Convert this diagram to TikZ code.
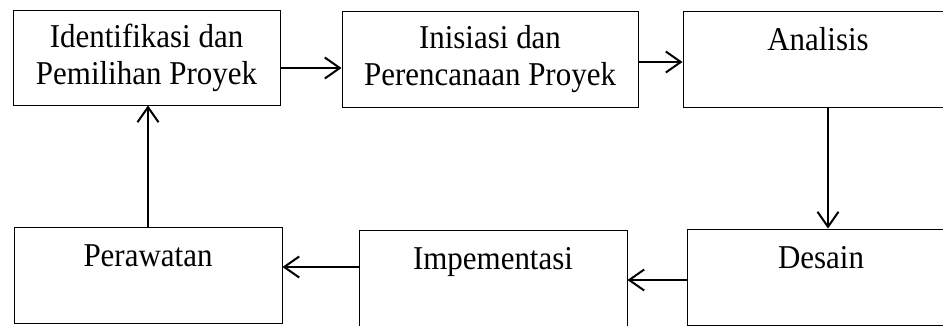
\documentclass[tikz,border=0pt]{standalone}
\usepackage{fontspec}
\setmainfont[FakeStretch=0.93]{Liberation Serif}
\usetikzlibrary{arrows.meta}
\tikzset{
    phase/.style={draw, line width=0.9pt, align=center, minimum height=96pt,
        font=\fontsize{33.3}{37}\selectfont},
    phaseone/.style={phase, text height=22pt, text depth=40pt},
    flow/.style={line width=2pt, -{Straight Barb[length=15pt,width=21pt,line width=2pt]}}
}

\begin{document}
\begin{tikzpicture}[x=1pt,y=-1pt]
\clip (0,0) rectangle (943,325);
\useasboundingbox (0,0) rectangle (943,325);
% top row
\node [phase, minimum width=267pt, minimum height=95pt] (ident) at (146.5,57.5) {Identifikasi dan\\Pemilihan Proyek};
\node [phase, minimum width=296pt] (inisiasi) at (490,59) {Inisiasi dan\\Perencanaan Proyek};
\node [phaseone, minimum width=270pt] (analisis) at (818,59) {Analisis};
% bottom row
\node [phaseone, minimum width=268pt] (desain) at (821,277) {Desain};
\node [phaseone, minimum width=268pt] (impl) at (493,278) {Impementasi};
\node [phaseone, minimum width=268pt] (rawat) at (148,275) {Perawatan};
% arrows
\draw [flow] ([yshift=-10.5pt]ident.east) -- ([yshift=-10.5pt]ident.east -| inisiasi.west);
\draw [flow] ([yshift=-3pt]inisiasi.east) -- ([yshift=-3pt]inisiasi.east -| analisis.west);
\draw [flow] ([xshift=10pt]analisis.south) -- ([xshift=10pt]analisis.south |- desain.north);
\draw [flow] ([yshift=-3pt]desain.west) -- ([yshift=-3pt]desain.west -| impl.east);
\draw [flow] ([yshift=11pt]impl.west) -- ([yshift=11pt]impl.west -| rawat.east);
\draw [flow] (rawat.north) -- (rawat.north |- ident.south);
\end{tikzpicture}
\end{document}
